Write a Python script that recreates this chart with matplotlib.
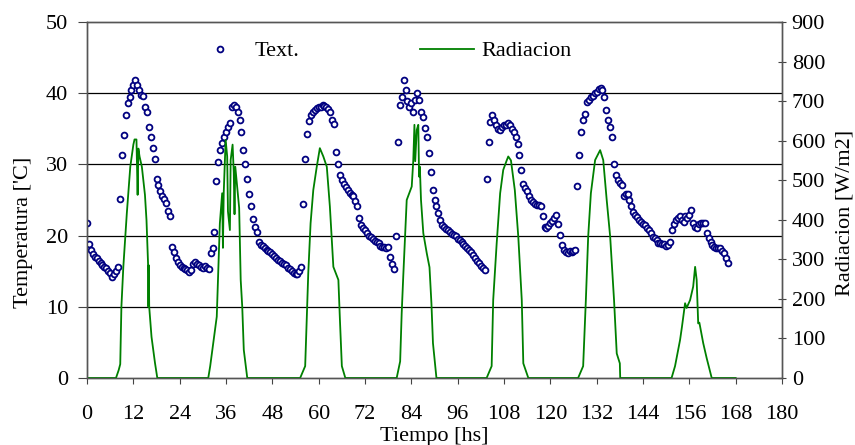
import numpy as np
import matplotlib.pyplot as plt
from matplotlib.lines import Line2D

plt.rcParams['font.family'] = ['Liberation Serif', 'DejaVu Serif']

# Outdoor temperature, one reading every half hour, one list per day
temp_d1 = [21.8, 18.8, 18.0, 17.4, 17.0, 16.8, 16.5, 16.2, 15.9, 15.6, 15.4, 15.0,
           14.8, 14.2, 14.6, 15.0, 15.6, 25.1, 31.3, 34.1, 36.9, 38.6, 39.5, 40.5,
           41.2, 41.9, 41.2, 40.5, 39.8, 39.6, 38.1, 37.3, 35.3, 33.9, 32.3, 30.8,
           28.0, 27.1, 26.2, 25.6, 25.2, 24.6, 23.4, 22.7, 18.4, 17.7, 16.8, 16.3]
temp_d2 = [15.8, 15.6, 15.4, 15.3, 15.1, 14.9, 15.2, 16.0, 16.3, 16.0, 15.8, 15.6,
           15.5, 15.7, 15.4, 15.3, 17.5, 18.2, 20.5, 27.7, 30.4, 32.0, 33.0, 33.9,
           34.6, 35.2, 35.8, 38.1, 38.3, 38.1, 37.3, 36.2, 34.6, 32.0, 30.0, 28.0,
           25.9, 24.1, 22.3, 21.2, 20.5, 19.1, 18.7, 18.5, 18.2, 18.0, 17.8, 17.7]
temp_d3 = [17.4, 17.2, 16.9, 16.6, 16.4, 16.2, 16.0, 15.8, 15.5, 15.3, 15.0, 14.8,
           14.6, 14.6, 15.0, 15.6, 24.4, 30.8, 34.3, 36.1, 37.0, 37.4, 37.6, 37.9,
           38.0, 38.1, 38.4, 38.2, 38.0, 37.8, 37.3, 36.2, 35.7, 31.8, 30.1, 28.5,
           27.8, 27.3, 26.8, 26.4, 26.0, 25.7, 25.5, 24.8, 24.1, 22.5, 21.5, 21.0]
temp_d4 = [20.8, 20.4, 20.0, 19.8, 19.5, 19.3, 19.1, 18.9, 18.6, 18.4, 18.4, 18.3,
           18.4, 17.0, 16.0, 15.3, 20.0, 33.2, 38.3, 39.5, 41.9, 40.4, 38.9, 38.1,
           38.6, 37.4, 39.0, 40.0, 39.1, 37.3, 36.6, 35.1, 33.9, 31.6, 29.0, 26.4,
           25.0, 24.1, 23.2, 22.2, 21.5, 21.2, 20.9, 20.8, 20.5, 20.2, 20.1, 19.9]
temp_d5 = [19.5, 19.4, 19.1, 18.8, 18.5, 18.3, 18.0, 17.7, 17.3, 16.9, 16.5, 16.1,
           15.7, 15.4, 15.1, 27.9, 33.1, 36.0, 36.9, 36.2, 35.6, 35.0, 34.8, 35.3,
           35.6, 35.5, 35.8, 35.5, 35.0, 34.5, 33.8, 32.8, 31.3, 29.2, 27.3, 26.7,
           26.2, 25.6, 25.0, 24.7, 24.5, 24.3, 24.3, 24.2, 22.7, 21.2, 21.0, 21.4]
temp_d6 = [21.7, 22.0, 22.4, 22.9, 21.6, 20.1, 18.7, 18.0, 17.7, 17.6, 17.8, 17.7,
           17.8, 18.0, 27.0, 31.3, 34.6, 36.2, 37.1, 38.8, 39.1, 39.5, 39.6, 40.0,
           40.2, 40.6, 40.7, 40.5, 39.5, 37.6, 36.2, 35.3, 33.9, 30.0, 28.5, 27.8,
           27.4, 27.1, 25.5, 25.8, 25.9, 25.0, 24.1, 23.3, 22.9, 22.6, 22.2, 21.9]
temp_d7 = [21.6, 21.5, 21.1, 20.8, 20.3, 19.8, 19.6, 19.4, 19.0, 18.9, 18.8, 18.8,
           18.6, 18.7, 19.1, 20.8, 21.6, 22.2, 22.4, 22.7, 22.2, 21.9, 22.7, 22.5,
           22.9, 23.6, 21.8, 21.2, 21.0, 21.6, 21.7, 21.8, 21.7, 20.3, 19.6, 19.1,
           18.7, 18.4, 18.3, 18.2, 18.2, 17.9, 17.5, 16.9, 16.1]
step_hs = 0.5

# Solar radiation, break points (hours, W/m2)
rad_t = [0, 7.5, 8.2, 8.6, 8.9, 9.4, 10.3, 11.2, 12.0, 12.3, 12.8, 13.1, 13.3, 13.6,
         14.2, 15.0, 15.4, 15.8, 15.9, 16.0, 16.1, 16.7, 17.6, 18.2,
         31.4, 31.9, 33.6, 34.0, 34.4, 35.0, 35.2, 35.4, 35.9, 36.3, 36.5, 37.0,
         37.2, 37.7, 38.0, 38.2, 38.4, 39.4, 39.8, 40.2, 40.6, 41.5,
         55.2, 56.5, 56.9, 57.3, 57.9, 58.6, 59.5, 60.3, 61.2, 62.1, 62.9, 63.8,
         65.1, 65.5, 66.0, 66.9,
         80.2, 81.1, 81.5, 81.9, 82.8, 84.1, 84.5, 84.8, 85.0, 85.4, 85.8, 86.0,
         86.2, 86.5, 87.1, 88.0, 88.5, 88.7, 89.2, 89.6, 90.5,
         103.5, 104.8, 105.2, 106.1, 107.0, 107.8, 108.7, 109.1, 109.8, 110.8,
         111.7, 112.6, 113.0, 114.3,
         127.2, 128.5, 129.2, 129.8, 130.5, 131.6, 132.9, 133.7, 134.6, 135.5,
         136.5, 137.2, 138.0, 138.1,
         151.4, 152.3, 153.6, 154.1, 154.9, 155.3, 156.2, 157.0, 157.5, 157.9,
         158.3, 158.6, 159.6, 160.5, 161.8, 168.0]
rad_v = [0, 0, 20, 35, 180, 281, 416, 534, 590, 603, 603, 463, 580, 560,
         534, 463, 399, 290, 180, 285, 180, 104, 38, 0,
         0, 30, 155, 273, 391, 467, 329, 467, 602, 560, 421, 374,
         551, 590, 520, 414, 534, 430, 248, 180, 71, 0,
         0, 30, 147, 265, 391, 475, 534, 581, 560, 534, 433, 281,
         248, 147, 30, 0,
         0, 42, 164, 256, 450, 484, 550, 640, 548, 627, 640, 509,
         534, 450, 366, 315, 290, 280, 189, 88, 0,
         0, 30, 197, 340, 467, 526, 550, 560, 550, 475,
         357, 197, 37, 0,
         0, 30, 197, 357, 467, 551, 576, 551, 450, 357,
         197, 62, 37, 0,
         0, 30, 96, 130, 189, 177, 197, 231, 281, 248,
         138, 140, 88, 50, 0, 0]

temp = temp_d1 + temp_d2 + temp_d3 + temp_d4 + temp_d5 + temp_d6 + temp_d7
t_temp = np.arange(len(temp)) * step_hs

navy = '#000080'
green = '#008000'
fs = 16

fig = plt.figure(figsize=(8.55, 4.45), dpi=100)
ax = fig.add_axes([0.1018, 0.1506, 0.8128, 0.8])
ax2 = ax.twinx()

ax.plot(t_temp, temp, 'o', ms=4.2, mfc='white', mec=navy, mew=1.3, zorder=3)
ax2.plot(rad_t, rad_v, color=green, lw=1.3)

ax.set_xlim(0, 180)
ax.set_ylim(0, 50)
ax2.set_ylim(0, 900)
ax.set_xticks(np.arange(0, 181, 12))
ax.set_yticks(np.arange(0, 51, 10))
ax2.set_yticks(np.arange(0, 901, 100))

for y in [10, 20, 30, 40]:
    ax.axhline(y, color='black', lw=0.9, zorder=1)

for a in (ax, ax2):
    for s in a.spines.values():
        s.set_color('#555555')
        s.set_linewidth(1.0)
ax.tick_params(axis='x', labelsize=fs, direction='out', length=4.3, color='#444444', pad=15)
ax.tick_params(axis='y', labelsize=fs, direction='out', length=6.5, color='#444444', pad=7)
ax2.tick_params(axis='y', labelsize=fs, direction='inout', length=6, color='#444444', pad=4)

ax.set_xlabel('Tiempo [hs]', fontsize=fs, labelpad=2)
ax.set_ylabel("Temperatura ['C]", fontsize=fs)
ax.yaxis.set_label_coords(-0.078, 0.41)
ax2.set_ylabel('Radiacion [W/m2]', fontsize=fs)
ax2.yaxis.set_label_coords(1.077, 0.463)

handles = [Line2D([], [], ls='none', marker='o', ms=4.2, mfc='white', mec=navy, mew=1.3),
           Line2D([], [], color=green, lw=1.3)]
leg = ax.legend(handles, ['Text.', 'Radiacion'], ncol=2, frameon=False, fontsize=fs,
                loc='center left', bbox_to_anchor=(0.1525, 0.918), borderpad=0,
                borderaxespad=0, handlelength=2.43, handletextpad=0.35, columnspacing=5.4)

fig.savefig('out.png', dpi=100)
